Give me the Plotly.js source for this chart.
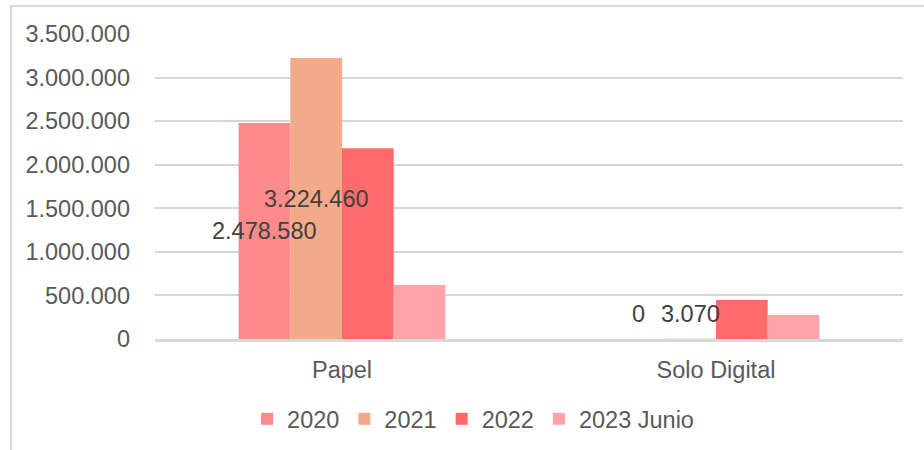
<!DOCTYPE html>
<html>
<head>
<meta charset="utf-8">
<script src="https://cdn.plot.ly/plotly-3.0.1.min.js"></script>
<style>
  html, body { margin: 0; padding: 0; background: #ffffff; }
  #frame { position: absolute; left: 10px; top: 5px; width: 940px; height: 460px;
           border-left: 2px solid #d9d9d9; border-top: 2px solid #d9d9d9; box-sizing: border-box; }
  #chart { position: absolute; left: 0; top: 0; width: 924px; height: 450px; }
</style>
</head>
<body>
<div id="frame"></div>
<div id="chart"></div>
<script>
const categories = ["Papel", "Solo Digital"];
const seriesNames = ["2020", "2021", "2022", "2023 Junio"];
const values2020 = [2478580, 0];
const values2021 = [3224460, 3070];
const values2022 = [2190000, 448000];
const values2023 = [620000, 275000];
const yTicks = [0, 500000, 1000000, 1500000, 2000000, 2500000, 3000000, 3500000];

const colors = ["#FF8A8A", "#F2AA8A", "#FF6B6B", "#FFA4A9"];
const allValues = [values2020, values2021, values2022, values2023];
const labelledSeries = [0, 1];

const traces = allValues.map((vals, i) => ({
  type: "bar",
  name: seriesNames[i],
  x: categories,
  y: vals,
  marker: { color: colors[i], line: { width: 0 } },
  hoverinfo: "x+y+name"
}));

const bargap = 0.447;
const nSeries = allValues.length;
const barW = (1 - bargap) / nSeries;

function fmt(v) {
  return Math.round(v).toString().replace(/\B(?=(\d{3})+(?!\d))/g, ".");
}

const annotations = [];
labelledSeries.forEach(si => {
  allValues[si].forEach((v, ci) => {
    const offset = -(1 - bargap) / 2 + barW * (si + 0.5);
    const small = v / 2 < 300000;
    annotations.push({
      xref: "x", yref: "y",
      x: ci + offset, y: v / 2,
      yshift: small ? 25 : 0,
      text: fmt(v), showarrow: false,
      xanchor: "center", yanchor: "middle",
      font: { family: "Liberation Sans, Arial, sans-serif", size: 23.5, color: "#404040" }
    });
  });
});

const layout = {
  width: 924, height: 450,
  margin: { l: 155, r: 21, t: 34, b: 111 },
  paper_bgcolor: "rgba(0,0,0,0)",
  plot_bgcolor: "rgba(0,0,0,0)",
  separators: ",.",
  barmode: "group",
  bargap: bargap,
  bargroupgap: 0,
  font: { family: "Liberation Sans, Arial, sans-serif", size: 23.5, color: "#595959" },
  xaxis: {
    type: "category",
    showgrid: false,
    showline: true, linecolor: "#d9d9d9", linewidth: 2.5,
    ticks: "", ticklen: 0,
    ticklabelstandoff: 8,
    tickfont: { size: 23.5, color: "#595959" },
    fixedrange: true
  },
  yaxis: {
    range: [0, 3500000],
    tickvals: yTicks,
    tickformat: ",d",
    showgrid: true, gridcolor: "#d6d6d6", gridwidth: 2,
    zeroline: false, showline: false,
    ticks: "", ticklabelstandoff: 24,
    tickfont: { size: 23.5, color: "#595959" },
    fixedrange: true
  },
  showlegend: true,
  legend: {
    orientation: "h",
    xref: "container", yref: "container",
    x: 0.512, xanchor: "center",
    y: 0.02, yanchor: "bottom",
    font: { size: 23.5, color: "#595959" },
    itemwidth: 30,
    traceorder: "normal"
  },
  annotations: annotations
};

Plotly.newPlot("chart", traces, layout, { displayModeBar: false, staticPlot: true });
</script>
</body>
</html>
